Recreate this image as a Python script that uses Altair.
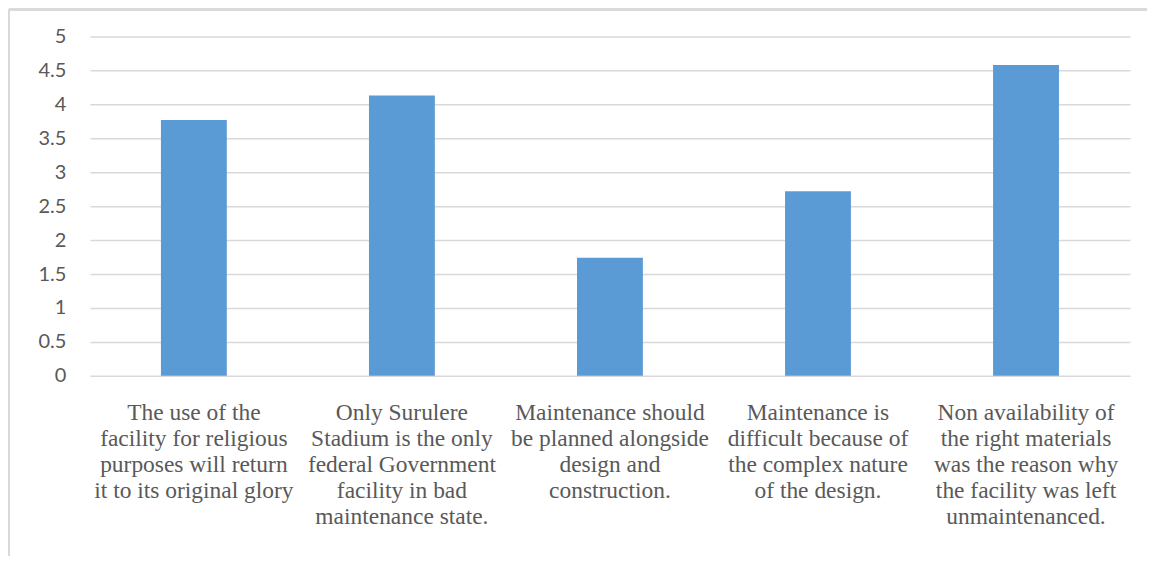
import altair as alt
import pandas as pd

categories = [
    "The use of the|facility for religious|purposes will return|it to its original glory",
    "Only Surulere|Stadium is the only|federal Government|facility in bad|maintenance state.",
    "Maintenance should|be planned alongside|design and|construction.",
    "Maintenance is|difficult because of|the complex nature|of the design.",
    "Non availability of|the right materials|was the reason why|the facility was left|unmaintenanced.",
]
values = [3.77, 4.13, 1.74, 2.72, 4.58]
y_ticks = [0, 0.5, 1, 1.5, 2, 2.5, 3, 3.5, 4, 4.5, 5]

df = pd.DataFrame({"cat": categories, "val": values})

W, H = 1042, 340

bars = alt.Chart(df).mark_bar(color="#5b9bd5", size=66).encode(
    x=alt.X(
        "cat:N",
        sort=None,
        title=None,
        scale=alt.Scale(paddingInner=0.683, paddingOuter=0.3415),
        axis=alt.Axis(
            labelExpr="split(datum.label, '|')",
            labelAngle=0,
            labelFont="Liberation Serif",
            labelFontSize=23.5,
            labelLineHeight=26,
            labelColor="#595959",
            labelPadding=25,
            labelBaseline="top",
            ticks=False,
            domain=False,
            grid=False,
            labelLimit=400,
        ),
    ),
    y=alt.Y(
        "val:Q",
        title=None,
        scale=alt.Scale(domain=[0, 5], nice=False),
        axis=alt.Axis(
            values=y_ticks,
            format="~g",
            labelFont="Lato",
            labelFontSize=20,
            labelColor="#595959",
            labelPadding=24,
            ticks=False,
            domain=False,
            gridColor="#d9d9d9",
            gridWidth=1.5,
        ),
    ),
)

frame_left = alt.Chart(df).mark_rule(color="#d9d9d9", strokeWidth=2).encode(
    x=alt.value(-81), y=alt.value(-27), y2=alt.value(520)
)
frame_top = alt.Chart(df).mark_rule(color="#d9d9d9", strokeWidth=2).encode(
    x=alt.value(-81), x2=alt.value(1059), y=alt.value(-27)
)

chart = (
    alt.layer(bars, frame_left, frame_top)
    .properties(width=W, height=H, padding=0)
    .configure_view(stroke=None)
)

chart.save("out.html", embed_options={"renderer": "svg", "actions": False})
